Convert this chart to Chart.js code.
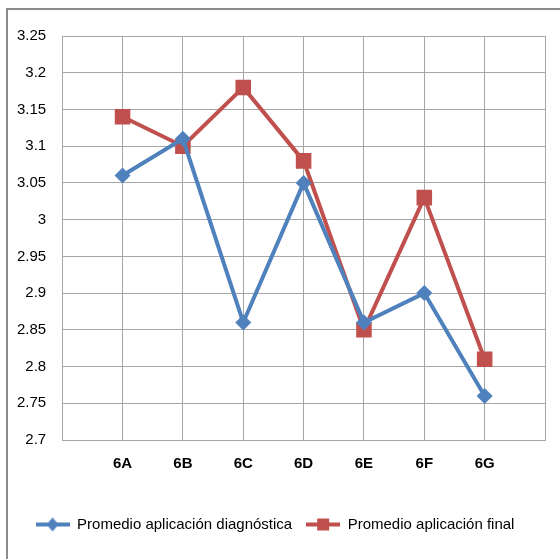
<!DOCTYPE html>
<html>
  <head>
    <title>Promedio aplicación</title>
    <meta charset="UTF-8" />
    <script src="https://cdn.jsdelivr.net/npm/chart.js"></script>
    <style>
      body { margin: 0; background: #fff; }
    </style>
  </head>
  <body>
    <canvas id="myChart" width="560" height="559"></canvas>

    <script>
      // chart data
      const categories = ["6A", "6B", "6C", "6D", "6E", "6F", "6G"];
      const diagnostica = [3.06, 3.11, 2.86, 3.05, 2.86, 2.90, 2.76];
      const final = [3.14, 3.10, 3.18, 3.08, 2.85, 3.03, 2.81];
      const yTicks = [2.7, 2.75, 2.8, 2.85, 2.9, 2.95, 3, 3.05, 3.1, 3.15, 3.2, 3.25];

      const FONT = "'Liberation Sans Narrow', 'Liberation Sans', sans-serif";
      const BLUE = "#4F81BD";
      const RED = "#C0504D";

      // legend icon: short line with the marker on top
      function legendIcon(color, shape) {
        const c = document.createElement("canvas");
        c.width = 34; c.height = 16;
        const ctx = c.getContext("2d");
        ctx.strokeStyle = color;
        ctx.lineWidth = 4;
        ctx.beginPath();
        ctx.moveTo(0, 8); ctx.lineTo(34, 8);
        ctx.stroke();
        ctx.fillStyle = color;
        ctx.beginPath();
        if (shape === "diamond") {
          ctx.moveTo(17, 1); ctx.lineTo(23, 8); ctx.lineTo(17, 15); ctx.lineTo(11, 8);
        } else {
          ctx.rect(11, 2, 12, 12);
        }
        ctx.fill();
        return c;
      }

      // outer frame like the spreadsheet chart box
      const framePlugin = {
        id: "frame",
        beforeDraw(chart) {
          const ctx = chart.ctx;
          ctx.save();
          ctx.strokeStyle = "#8c8c8c";
          ctx.lineWidth = 2;
          ctx.beginPath();
          ctx.moveTo(7, 559); ctx.lineTo(7, 9); ctx.lineTo(560, 9);
          ctx.stroke();
          ctx.restore();
        }
      };

      const toPoints = (arr) => arr.map((v, i) => ({ x: i + 1, y: v }));

      const chart = new Chart(document.getElementById("myChart").getContext("2d"), {
        type: "line",
        data: {
          datasets: [
            {
              label: "Promedio aplicación diagnóstica",
              data: toPoints(diagnostica),
              borderColor: BLUE,
              backgroundColor: BLUE,
              borderWidth: 4,
              pointStyle: "rectRot",
              pointRadius: 8,
              pointHoverRadius: 8,
              pointBorderWidth: 0,
              legendIcon: legendIcon(BLUE, "diamond")
            },
            {
              label: "Promedio aplicación final",
              data: toPoints(final),
              borderColor: RED,
              backgroundColor: RED,
              borderWidth: 4,
              pointStyle: "rect",
              pointRadius: 11,
              pointHoverRadius: 11,
              pointBorderWidth: 0,
              legendIcon: legendIcon(RED, "square")
            }
          ]
        },
        options: {
          responsive: false,
          animation: false,
          layout: { padding: { left: 1, right: 11, top: 36, bottom: 17 } },
          scales: {
            x: {
              type: "linear",
              min: 0,
              max: categories.length + 1,
              afterBuildTicks: (axis) => {
                axis.ticks = [];
                for (let i = 0; i <= categories.length + 1; i++) axis.ticks.push({ value: i });
              },
              afterFit: (axis) => { axis.height += 15; },
              grid: { color: "#a6a6a6", lineWidth: 1, tickLength: 0 },
              border: { color: "#a6a6a6" },
              ticks: {
                padding: 15,
                color: "#000",
                font: { family: FONT, size: 15, weight: "bold" },
                maxRotation: 0,
                autoSkip: false,
                callback: (v) => categories[v - 1] || ""
              }
            },
            y: {
              min: 2.7,
              max: 3.25,
              afterBuildTicks: (axis) => {
                axis.ticks = yTicks.map((v) => ({ value: v }));
              },
              grid: { color: "#a6a6a6", lineWidth: 1, tickLength: 0 },
              border: { color: "#a6a6a6" },
              ticks: {
                padding: 16,
                color: "#000",
                font: { family: FONT, size: 15 },
                callback: (v) => String(Number(v.toFixed(2)))
              }
            }
          },
          plugins: {
            tooltip: { enabled: false },
            legend: {
              position: "bottom",
              labels: {
                usePointStyle: true,
                pointStyleWidth: 34,
                padding: 14,
                color: "#000",
                font: { family: FONT, size: 15 },
                generateLabels: (ch) =>
                  ch.data.datasets.map((ds, i) => ({
                    text: ds.label,
                    pointStyle: ds.legendIcon,
                    fillStyle: ds.borderColor,
                    strokeStyle: ds.borderColor,
                    lineWidth: 0,
                    hidden: false,
                    datasetIndex: i,
                    fontColor: "#000"
                  }))
              }
            }
          }
        },
        plugins: [framePlugin]
      });
    </script>
  </body>
</html>
